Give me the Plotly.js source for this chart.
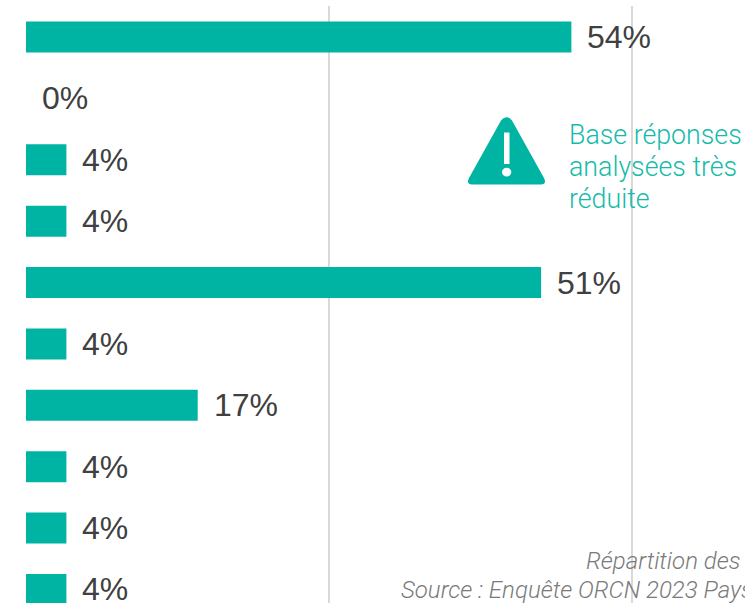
<!DOCTYPE html>
<html>
<head>
<meta charset="utf-8">
<script src="https://cdn.plot.ly/plotly-3.0.1.min.js"></script>
<style>html,body{margin:0;padding:0;background:#fff;overflow:hidden}#c{width:745px;height:603px}</style>
</head>
<body>
<div id="c"></div>
<script>
const positions = [0,1,2,3,4,5,6,7,8,9];
const values = [54,0,4,4,51,4,17,4,4,4];
const valueLabels = ["54%","0%","4%","4%","51%","4%","17%","4%","4%","4%"];
const gridTicks = [0,30,60];
const warningLines = ["Base réponses","analysées très","réduite"];
const noteLines = ["Répartition des","Source : Enquête ORCN 2023 Pays"];
const teal = "#00B4A3";

const W=745,H=603,L=26,T=6;
const px = v => (v-L)/(W-L);
const py = v => 1-(v-T)/(H-T);

const annotations = values.map((v,i)=>({
  x:v,y:positions[i],xref:"x",yref:"y",text:valueLabels[i],showarrow:false,
  xanchor:"left",yanchor:"middle",xshift:14,yshift:0,
  font:{family:"Liberation Sans",size:32,color:"#404040"}
}));
warningLines.forEach((t,i)=>annotations.push({
  xref:"paper",yref:"paper",x:px(570),y:py(134.5+i*32.2),text:t,showarrow:false,
  xanchor:"left",yanchor:"middle",xshift:-3,
  font:{family:"Roboto",size:26.75,color:"#16BBA9",weight:300}
}));
annotations.push({xref:"paper",yref:"paper",x:px(741),y:py(561),text:noteLines[0],showarrow:false,
  xanchor:"right",yanchor:"middle",xshift:2,font:{family:"Roboto",size:24,color:"#7a7a7a",weight:300,style:"italic"}});
annotations.push({xref:"paper",yref:"paper",x:px(401),y:py(590),text:noteLines[1],showarrow:false,
  xanchor:"left",yanchor:"middle",xshift:-2,font:{family:"Roboto",size:24,color:"#7a7a7a",weight:300,style:"italic"}});

const tri = "M "+px(501)+" "+py(120.5)+
  " Q "+px(506.5)+" "+py(114)+" "+px(512)+" "+py(120.5)+
  " L "+px(544)+" "+py(178)+
  " Q "+px(547)+" "+py(184.5)+" "+px(541)+" "+py(184.5)+
  " L "+px(472)+" "+py(184.5)+
  " Q "+px(466)+" "+py(184.5)+" "+px(469)+" "+py(178)+" Z";
const shapes=[
 {type:"path",xref:"paper",yref:"paper",path:tri,fillcolor:teal,line:{width:0},layer:"below"},
 {type:"rect",xref:"paper",yref:"paper",x0:px(504),x1:px(509.5),y0:py(132.5),y1:py(164),fillcolor:"#fff",line:{width:0}},
 {type:"circle",xref:"paper",yref:"paper",x0:px(502),x1:px(511.3),y0:py(167.7),y1:py(176.5),fillcolor:"#fff",line:{width:0}}
];

Plotly.newPlot("c",[{
  type:"bar",orientation:"h",y:positions,x:values,width:0.505,
  marker:{color:teal,line:{width:0}},hoverinfo:"skip"
}],{
  width:W,height:H,margin:{l:L,r:0,t:T,b:0,pad:0},
  paper_bgcolor:"#fff",plot_bgcolor:"#fff",showlegend:false,
  font:{family:"Roboto"},
  xaxis:{range:[0,71.19],tickmode:"array",tickvals:gridTicks,showgrid:true,gridcolor:"#d9d9d9",gridwidth:2,
    zeroline:false,showticklabels:false,ticks:"",showline:false},
  yaxis:{range:[9.22,-0.505],showgrid:false,zeroline:false,showticklabels:false,ticks:"",showline:false},
  shapes:shapes,annotations:annotations
},{displayModeBar:false,staticPlot:true});
</script>
</body>
</html>
